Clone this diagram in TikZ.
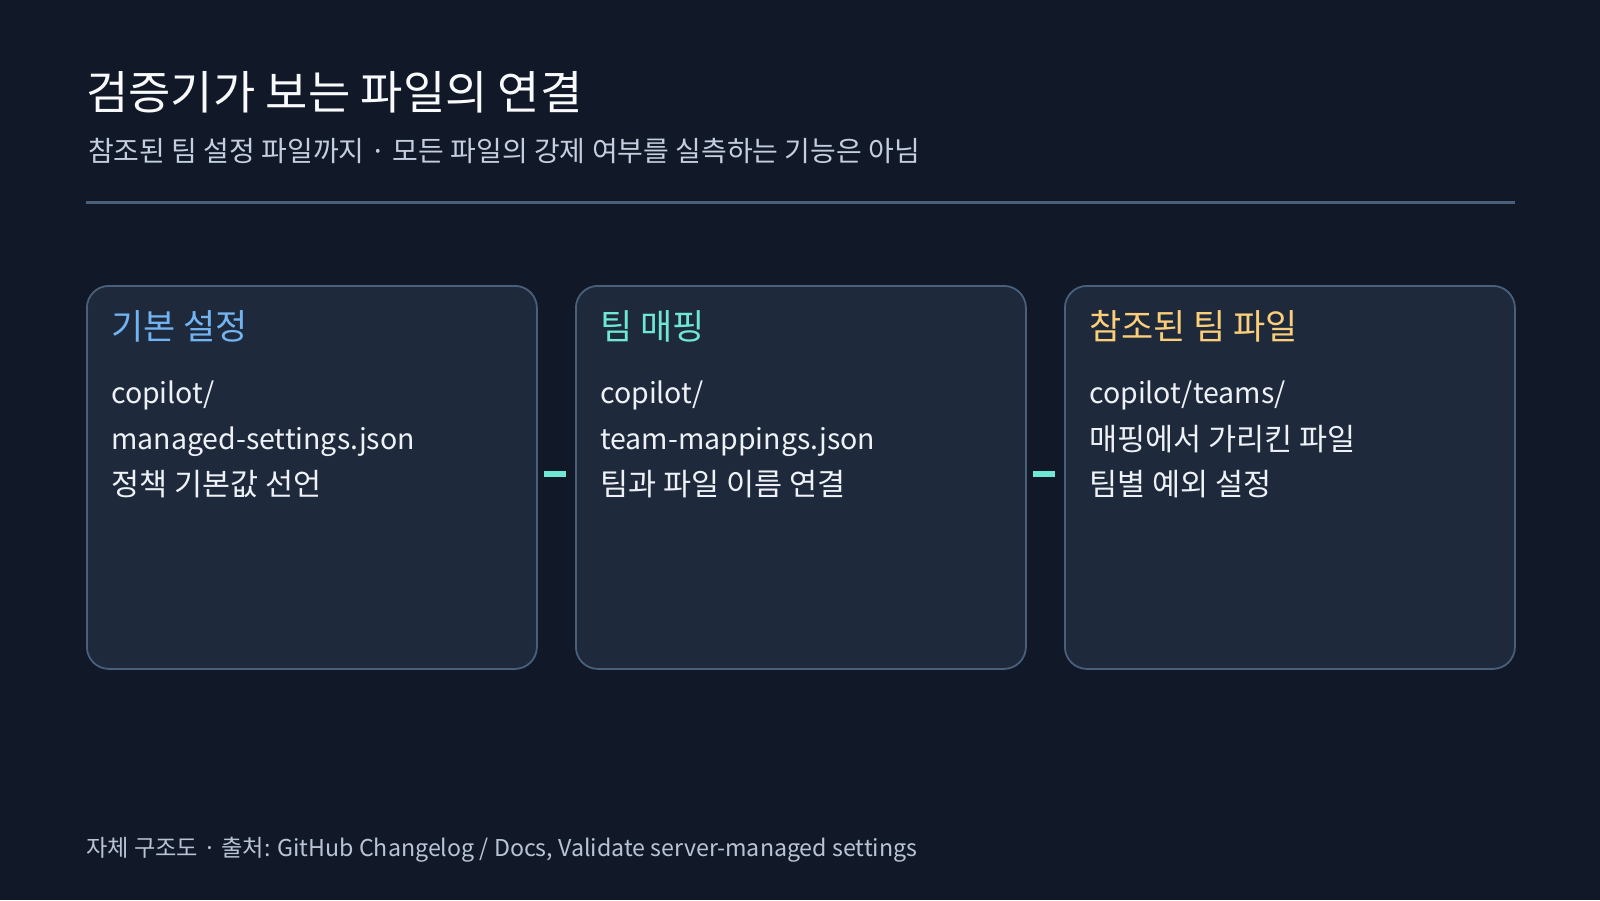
\documentclass[tikz,border=0pt]{standalone}
\usepackage{fontspec}
\setmainfont{Noto Sans CJK KR}
\definecolor{bg}{HTML}{111827}
\definecolor{boxfill}{HTML}{1E293B}
\definecolor{boxline}{HTML}{4A5F7A}
\definecolor{rulec}{HTML}{4A5F7A}
\definecolor{titlec}{HTML}{F8FAFC}
\definecolor{subc}{HTML}{C3CFE0}
\definecolor{bodyc}{HTML}{EEF2F7}
\definecolor{footc}{HTML}{B8C4D6}
\definecolor{hblue}{HTML}{72B4F2}
\definecolor{hteal}{HTML}{6EE7D4}
\definecolor{hamber}{HTML}{FBCF7A}
\tikzset{
  box/.style={draw=boxline, line width=1.8pt, fill=boxfill, rounded corners=22pt,
    minimum width=450pt, minimum height=383pt, anchor=north west, inner sep=0pt},
  txt/.style={inner sep=0pt, anchor=base west},
  title/.style={txt, text=titlec, font=\fontsize{46}{52}\selectfont},
  subtitle/.style={txt, text=subc, font=\fontsize{28}{32}\selectfont},
  head/.style={txt, font=\fontsize{35}{40}\selectfont},
  body/.style={txt, text=bodyc, font=\fontsize{30.5}{35}\selectfont},
  bodylat/.style={txt, text=bodyc, font=\fontsize{28.5}{34}\selectfont},
  foot/.style={txt, text=footc, font=\fontsize{23.2}{27}\selectfont},
  conn/.style={draw=hteal, line width=6.5pt},
  rulestyle/.style={draw=rulec, line width=3pt}
}
\begin{document}
\begin{tikzpicture}[x=1pt,y=-1pt]
\fill[bg] (0,0) rectangle (1600,900);
\useasboundingbox (0,0) rectangle (1600,900);

\node[title] (t) at (86,109) {검증기가 보는 파일의 연결};
\node[subtitle] (st) at (88,161) {참조된 팀 설정 파일까지 · 모든 파일의 강제 여부를 실측하는 기능은 아님};
\coordinate (r1) at (86,202);
\coordinate (r2) at (1515,202);
\draw[rulestyle] (r1) -- (r2);

\node[box] (b1) at (86,285) {};
\node[box] (b2) at (575,285) {};
\node[box] (b3) at (1064,285) {};

\node[head, text=hblue] (h1) at (111,339) {기본 설정};
\node[bodylat] (l11) at (111,403) {copilot/};
\node[bodylat] (l12) at (111,449) {managed-settings.json};
\node[body] (l13) at (111,495) {정책 기본값 선언};

\node[head, text=hteal] (h2) at (600,339) {팀 매핑};
\node[bodylat] (l21) at (600,403) {copilot/};
\node[bodylat] (l22) at (600,449) {team-mappings.json};
\node[body] (l23) at (600,495) {팀과 파일 이름 연결};

\node[head, text=hamber] (h3) at (1089,339) {참조된 팀 파일};
\node[bodylat] (l31) at (1089,403) {copilot/teams/};
\node[body] (l32) at (1089,450) {매핑에서 가리킨 파일};
\node[body] (l33) at (1089,495) {팀별 예외 설정};

\draw[conn] ([xshift=6pt,yshift=3.5pt]b1.east) -- ([xshift=-9pt,yshift=3.5pt]b2.west);
\draw[conn] ([xshift=6pt,yshift=3.5pt]b2.east) -- ([xshift=-9pt,yshift=3.5pt]b3.west);

\node[foot] (f) at (86,856) {자체 구조도 · 출처: GitHub Changelog / Docs, Validate server-managed settings};
\end{tikzpicture}
\end{document}
